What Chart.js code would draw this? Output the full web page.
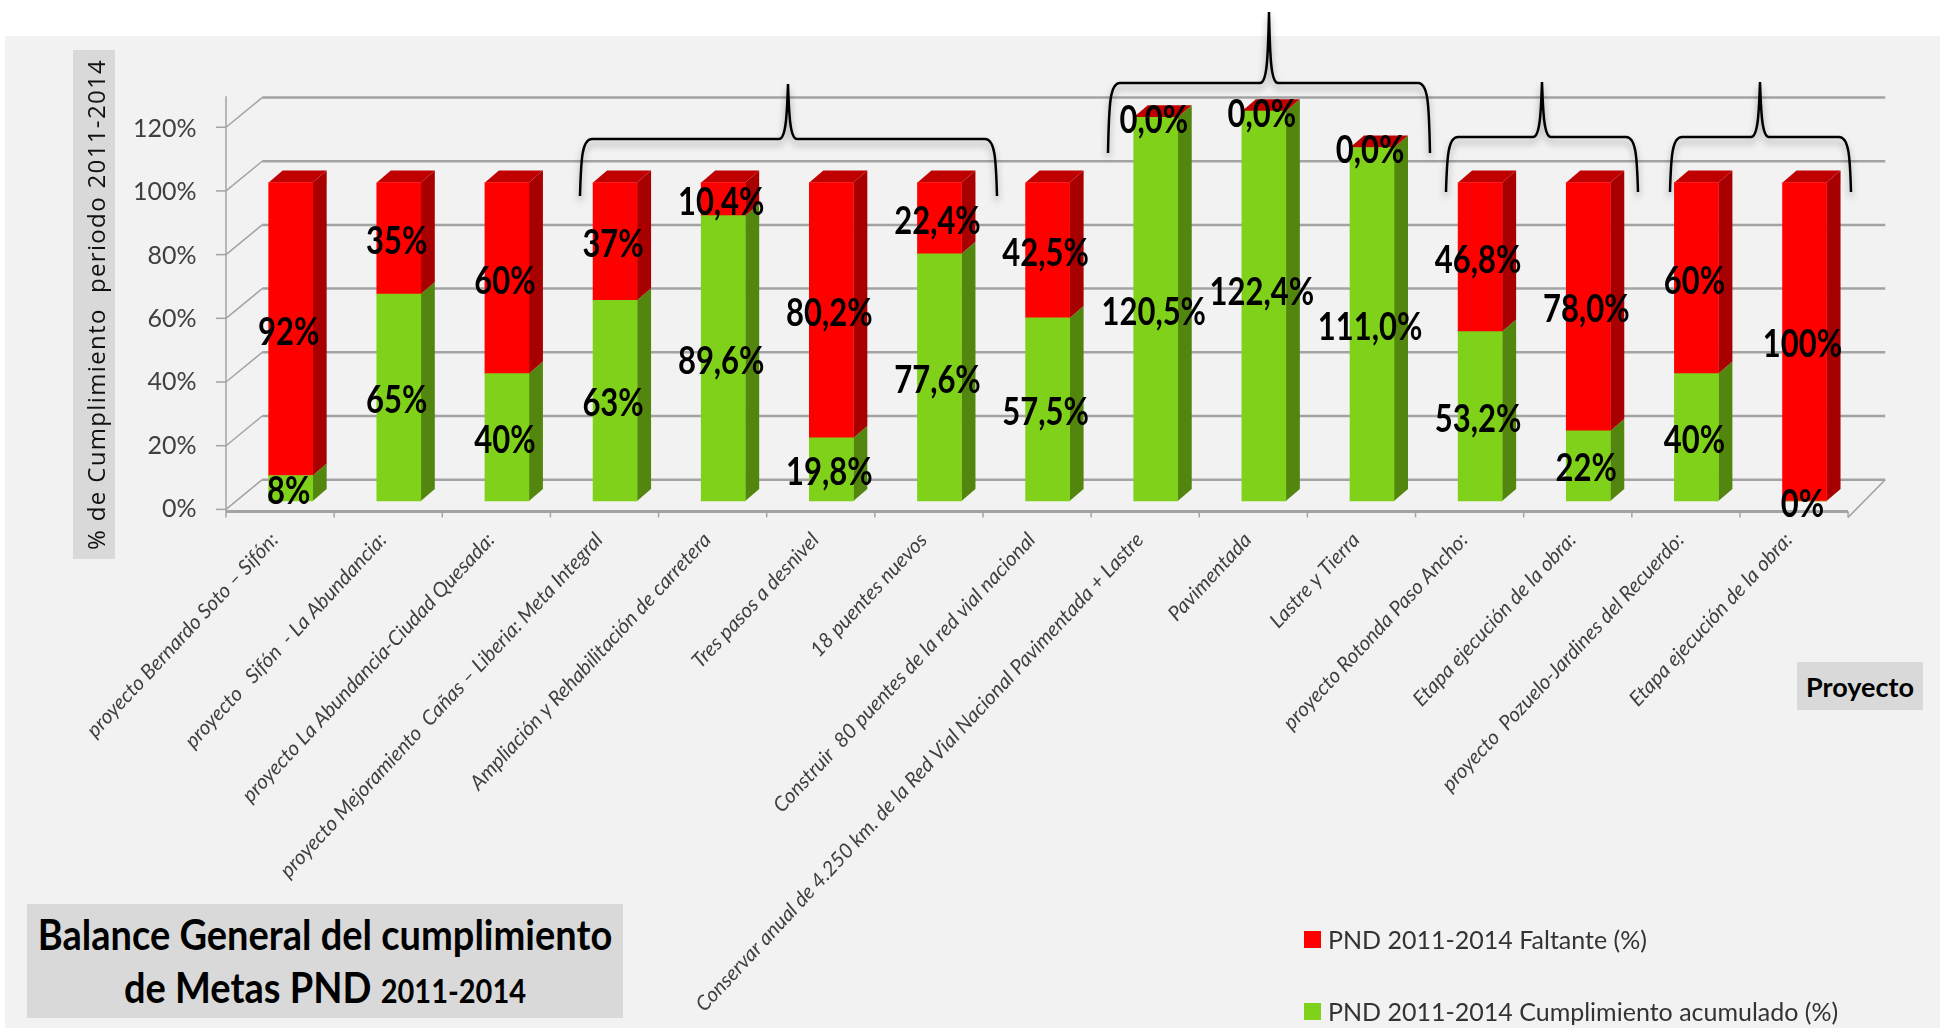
<!DOCTYPE html>
<html lang="es">
<head>
<meta charset="utf-8">
<title>Balance General del cumplimiento de Metas PND 2011-2014</title>
<script src="https://cdn.jsdelivr.net/npm/chart.js@4/dist/chart.umd.min.js"></script>
<style>
    html, body { margin: 0; background: #fff; overflow: hidden; }
    #panel { position: absolute; left: 5px; top: 36px; right: 0; bottom: 0; background: #f2f2f2; }
    canvas { position: absolute; left: 0; top: 0; }
    .box { position: absolute; background: #d9d9d9; color: #000; font-family: Lato, sans-serif;
           display: flex; align-items: center; justify-content: center; text-align: center; }
    .box span { display: inline-block; }
    #chart-title { left: 27px; top: 904px; width: 596px; height: 114px; font-weight: 700; font-size: 38px; line-height: 47px; }
    #chart-title span { transform: scaleY(1.13); }
    #chart-title small { font-size: 29px; }
    #y-title { left: 73px; top: 50px; width: 42px; height: 509px; font-size: 24px; letter-spacing: 1.35px; color: #111;
               white-space: pre; writing-mode: vertical-rl; transform: rotate(180deg); font-family: "Open Sans", sans-serif; }
    #y-title span { position: relative; left: -2px; }
    #x-title { left: 1797px; top: 662px; width: 126px; height: 48px; font-weight: 700; font-size: 27px; }
    .legend-row { position: absolute; left: 1304px; font: 25px Lato, sans-serif; color: #333; white-space: nowrap;
                  display: flex; align-items: center; height: 30px; }
    .legend-row i { display: block; width: 17px; height: 17px; margin-right: 7px; }
</style>
</head>
<body>
<div id="panel"></div>
<canvas id="chart" width="1940" height="1028"></canvas>
<div class="box" id="y-title"><span>% de Cumplimiento  periodo 2011-2014</span></div>
<div class="box" id="x-title"><span>Proyecto</span></div>
<div class="box" id="chart-title"><span>Balance General del cumplimiento<br>de Metas PND <small>2011-2014</small></span></div>
<div id="legend"></div>
<script>
const categories = [
    'proyecto Bernardo Soto – Sifón:',
    'proyecto   Sifón  - La Abundancia:',
    'proyecto La Abundancia-Ciudad Quesada:',
    'proyecto Mejoramiento  Cañas – Liberia: Meta Integral',
    'Ampliación y Rehabilitación de carretera',
    'Tres pasos a desnivel',
    '18 puentes nuevos',
    'Construir  80 puentes de la red vial nacional',
    'Conservar anual de 4.250 km. de la Red Vial Nacional Pavimentada + Lastre',
    'Pavimentada',
    'Lastre y Tierra',
    'proyecto Rotonda Paso Ancho:',
    'Etapa ejecución de la obra:',
    'proyecto  Pozuelo-Jardines del Recuerdo:',
    'Etapa ejecución de la obra:'
];
const cumplimiento = [8, 65, 40, 63, 89.6, 19.8, 77.6, 57.5, 120.5, 122.4, 111, 53.2, 22, 40, 0];
const faltante = [92, 35, 60, 37, 10.4, 80.2, 22.4, 42.5, 0, 0, 0, 46.8, 78, 60, 100];
const cumplimientoLabels = ['8%', '65%', '40%', '63%', '89,6%', '19,8%', '77,6%', '57,5%', '120,5%', '122,4%', '111,0%', '53,2%', '22%', '40%', '0%'];
const faltanteLabels = ['92%', '35%', '60%', '37%', '10,4%', '80,2%', '22,4%', '42,5%', '0,0%', '0,0%', '0,0%', '46,8%', '78,0%', '60%', '100%'];

// the hand drawn curly braces over the project groups: left, right, tip x, tip y, top, end y
const braces = [
    [580, 997, 788, 84, 139, 196],
    [1108, 1430, 1269, 12, 83, 153],
    [1446, 1638, 1542, 82, 137, 192],
    [1670, 1851, 1760, 82, 137, 192]
];

const GREEN = '#7fd11a', GREEN_SIDE = '#53860f';
const RED = '#ff0000', RED_SIDE = '#a80000', RED_TOP = '#c00000';
const GRID = '#a3a3a3';

// fake 3D: offsets from the plane of the bars to the front axis and to the back wall
const FRONT = { x: -10.6, y: 8.4 };
const BACK = { x: 25.6, y: -21.3 };
const BAR_DEPTH = { x: 14, y: -12 };

function line(ctx, x1, y1, x2, y2) {
    ctx.beginPath();
    ctx.moveTo(x1, y1);
    ctx.lineTo(x2, y2);
    ctx.stroke();
}

function drawWalls(chart) {
    const ctx = chart.ctx;
    const { left, right } = chart.chartArea;
    const y = chart.scales.y;
    const frontL = left + FRONT.x, frontR = right + FRONT.x + 0.1;
    const backL = left + BACK.x, backR = right + BACK.x + 1;
    ctx.save();
    ctx.strokeStyle = GRID;
    for (let v = 0; v <= 120; v += 20) {
        const py = y.getPixelForValue(v);
        ctx.lineWidth = 2.5;
        line(ctx, backL, py + BACK.y, backR, py + BACK.y);
        ctx.lineWidth = 1.5;
        line(ctx, frontL, py + FRONT.y, backL, py + BACK.y);
        line(ctx, frontL - 10, py + FRONT.y, frontL, py + FRONT.y);
    }
    const floorFront = y.getPixelForValue(0) + FRONT.y + 2;
    ctx.lineWidth = 1.5;
    line(ctx, frontL, y.getPixelForValue(129.7) + FRONT.y, frontL, floorFront + 6);
    line(ctx, frontR, floorFront + 6, backR, y.getPixelForValue(0) + BACK.y);
    const slot = (frontR - frontL) / categories.length;
    for (let i = 1; i <= categories.length; i++) {
        line(ctx, frontL + slot * i, floorFront, frontL + slot * i, floorFront + 6);
    }
    ctx.lineWidth = 3;
    line(ctx, frontL, floorFront, frontR, floorFront);
    ctx.restore();
}

function drawBarDepth(chart) {
    const ctx = chart.ctx;
    ctx.save();
    chart.data.datasets.forEach((ds, di) => {
        chart.getDatasetMeta(di).data.forEach(bar => {
            const r = bar.x + bar.width / 2;
            const l = bar.x - bar.width / 2;
            ctx.fillStyle = ds.sideColor;
            ctx.beginPath();
            ctx.moveTo(r, bar.y);
            ctx.lineTo(r + BAR_DEPTH.x, bar.y + BAR_DEPTH.y);
            ctx.lineTo(r + BAR_DEPTH.x, bar.base + BAR_DEPTH.y);
            ctx.lineTo(r, bar.base);
            ctx.closePath();
            ctx.fill();
            if (ds.topColor) {
                ctx.fillStyle = ds.topColor;
                ctx.beginPath();
                ctx.moveTo(l, bar.y);
                ctx.lineTo(l + BAR_DEPTH.x, bar.y + BAR_DEPTH.y);
                ctx.lineTo(r + BAR_DEPTH.x, bar.y + BAR_DEPTH.y);
                ctx.lineTo(r, bar.y);
                ctx.closePath();
                ctx.fill();
            }
        });
    });
    ctx.restore();
}

function drawBrace(ctx, b) {
    const [l, r, tipX, tipY, top, end] = b;
    ctx.beginPath();
    ctx.moveTo(l, end);
    ctx.bezierCurveTo(l + 1, top + 20, l + 2, top, l + 12, top);
    ctx.lineTo(tipX - 9, top);
    ctx.bezierCurveTo(tipX - 2, top, tipX - 1, top - 25, tipX, tipY);
    ctx.bezierCurveTo(tipX + 1, top - 25, tipX + 2, top, tipX + 9, top);
    ctx.lineTo(r - 12, top);
    ctx.bezierCurveTo(r - 2, top, r - 1, top + 20, r, end);
    ctx.stroke();
}

const threeDPlugin = {
    id: 'threeD',
    beforeDatasetsDraw(chart) {
        drawWalls(chart);
        drawBarDepth(chart);
    },
    afterDatasetsDraw(chart) {
        const ctx = chart.ctx;
        ctx.save();
        ctx.strokeStyle = '#000';
        ctx.lineWidth = 2.5;
        ctx.shadowColor = 'rgba(0,0,0,0.35)';
        ctx.shadowBlur = 7;
        ctx.shadowOffsetY = 5;
        braces.forEach(b => drawBrace(ctx, b));
        ctx.restore();
    }
};

const barLabelPlugin = {
    id: 'barLabels',
    afterDraw(chart) {
        const ctx = chart.ctx;
        ctx.save();
        ctx.fillStyle = '#000';
        ctx.font = '700 31px Lato, sans-serif';
        ctx.textAlign = 'center';
        ctx.textBaseline = 'middle';
        chart.data.datasets.forEach((ds, di) => {
            chart.getDatasetMeta(di).data.forEach((bar, i) => {
                // the 122,4% label sits higher than the middle of its bar in the original
                const lift = (di === 0 && i === 9) ? 17 : 0;
                // the original lettering is stretched vertically
                ctx.save();
                ctx.translate(bar.x - 2, (bar.y + bar.base) / 2 + 3 - lift);
                ctx.scale(1, 1.25);
                ctx.fillText(ds.valueLabels[i], 0, 0);
                ctx.restore();
            });
        });
        ctx.restore();
    }
};

const datasets = [
    { label: 'PND 2011-2014 Cumplimiento acumulado (%)', data: cumplimiento, backgroundColor: GREEN,
      sideColor: GREEN_SIDE, valueLabels: cumplimientoLabels, stack: 'a', barThickness: 44 },
    { label: 'PND 2011-2014 Faltante (%)', data: faltante, backgroundColor: RED,
      sideColor: RED_SIDE, topColor: RED_TOP, valueLabels: faltanteLabels, stack: 'a', barThickness: 44 }
];

new Chart(document.getElementById('chart'), {
    type: 'bar',
    data: { labels: categories, datasets: datasets },
    plugins: [threeDPlugin, barLabelPlugin],
    options: {
        responsive: false,
        animation: false,
        layout: { padding: { top: 87, right: 81.4, left: 0, bottom: 0 } },
        plugins: { legend: { display: false }, title: { display: false }, tooltip: { enabled: false } },
        scales: {
            x: {
                stacked: true,
                grid: { display: false },
                border: { display: false },
                afterFit(scale) { scale.height = 517; },
                ticks: {
                    autoSkip: false, minRotation: 47, maxRotation: 47, padding: 9, labelOffset: -16,
                    color: '#404040', font: { family: 'Lato, sans-serif', size: 20.5, style: 'italic' }
                }
            },
            // plane of the bars
            y: { display: false, stacked: true, min: -3.14, max: 130 },
            // printed axis, it sits a little lower than the bars because of the perspective
            yFront: {
                position: 'left', min: -0.63, max: 133.25,
                grid: { display: false },
                border: { display: false },
                afterFit(scale) { scale.width = 236.6; },
                ticks: {
                    stepSize: 20, includeBounds: false, padding: 32, color: '#404040',
                    font: { family: 'Lato, sans-serif', size: 25 },
                    callback: v => v + '%'
                }
            }
        }
    }
});

// legend, red series first like the original
const legend = document.getElementById('legend');
[...datasets].reverse().forEach((ds, i) => {
    const row = document.createElement('div');
    row.className = 'legend-row';
    row.style.top = (i === 0 ? 924 : 996) + 'px';
    const swatch = document.createElement('i');
    swatch.style.background = ds.backgroundColor;
    row.appendChild(swatch);
    row.appendChild(document.createTextNode(ds.label));
    legend.appendChild(row);
});
</script>
</body>
</html>
